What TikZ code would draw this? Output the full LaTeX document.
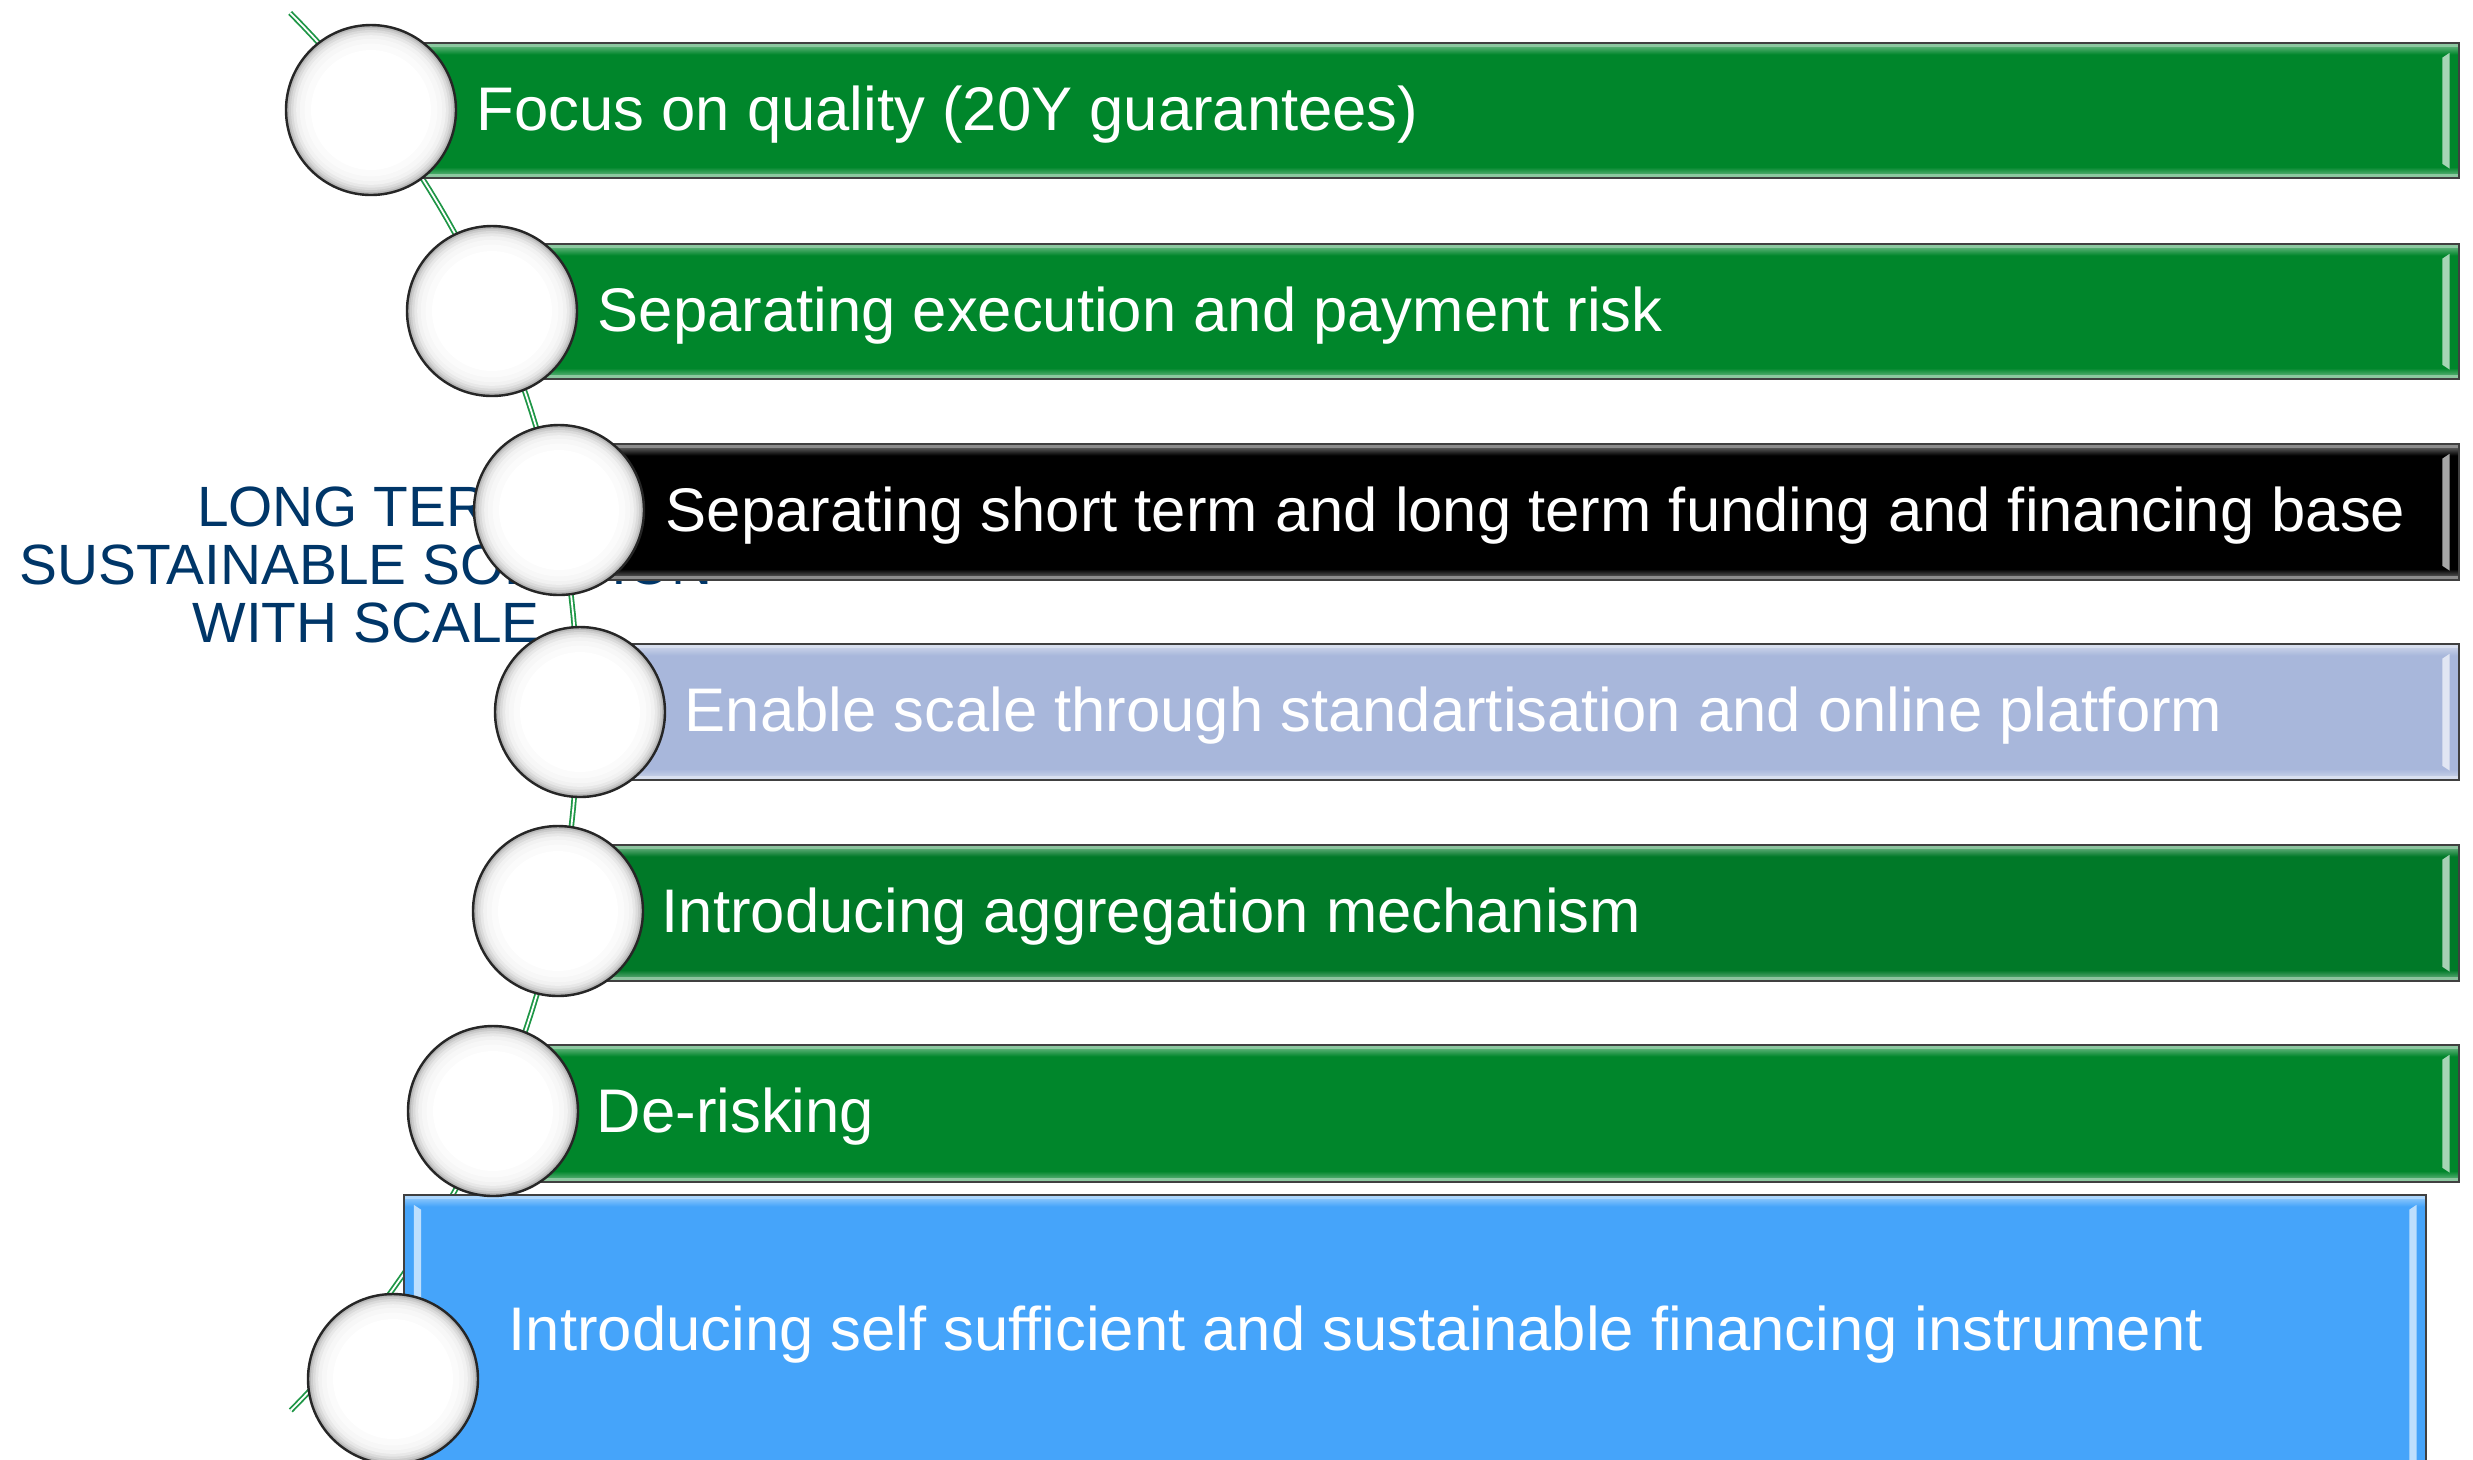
\documentclass[tikz,border=0pt]{standalone}
\usepackage{fontspec}
\setmainfont{Liberation Sans}

\definecolor{barGreen}{RGB}{0,134,43}
\definecolor{barGreenDark}{RGB}{0,121,40}
\definecolor{barLavender}{RGB}{168,183,219}
\definecolor{barBlue}{RGB}{69,164,250}
\definecolor{navyText}{RGB}{0,54,104}
\definecolor{arcGreen}{RGB}{30,150,70}

\tikzset{
  % one unit = one pixel of the 2473 x 1459 layout, y pointing down
  bar/.style={
    rectangle, anchor=north west, inner sep=0pt,
    draw=black!75, line width=0.6pt, fill=#1,
    path picture={
      % top bevel
      \fill[#1!45!white] ([yshift=-0.3pt]path picture bounding box.north west)
        rectangle ([yshift=-1.1pt]path picture bounding box.north east);
      \shade[top color=#1!70!white, bottom color=#1]
        ([yshift=-1.1pt]path picture bounding box.north west)
        rectangle ([yshift=-2.8pt]path picture bounding box.north east);
      % bottom bevel
      \shade[top color=#1, bottom color=#1!70!white]
        ([yshift=2.8pt]path picture bounding box.south west)
        rectangle ([yshift=1.1pt]path picture bounding box.south east);
      \fill[#1!45!white] ([yshift=1.1pt]path picture bounding box.south west)
        rectangle ([yshift=0.3pt]path picture bounding box.south east);
      % right edge highlight
      \fill[#1!35!white]
        ([shift={(-4.2pt,-3.6pt)}]path picture bounding box.north east) --
        ([shift={(-2.4pt,-2.4pt)}]path picture bounding box.north east) --
        ([shift={(-2.4pt,2.4pt)}]path picture bounding box.south east) --
        ([shift={(-4.2pt,3.6pt)}]path picture bounding box.south east) -- cycle;
      % left edge highlight
      \fill[#1!35!white]
        ([shift={(4.2pt,-3.6pt)}]path picture bounding box.north west) --
        ([shift={(2.4pt,-2.4pt)}]path picture bounding box.north west) --
        ([shift={(2.4pt,2.4pt)}]path picture bounding box.south west) --
        ([shift={(4.2pt,3.6pt)}]path picture bounding box.south west) -- cycle;
    }
  },
  ball/.style={
    circle, inner sep=0pt, minimum size=42.5pt,
    draw=black!85, line width=0.6pt, fill=black!40,
    path picture={
      \foreach \r/\s in {20.9/28,20.5/20,20.0/14,19.4/9,18.7/5,17.8/3,16.6/1.5,15.0/0}
        \fill[black!\s] (path picture bounding box.center) circle[radius=\r pt];
    }
  },
  bartext/.style={anchor=base west, inner sep=0pt, text=white,
    font=\fontsize{15.4pt}{18pt}\selectfont},
  lefttitle/.style={anchor=north, inner sep=0pt, align=center, text=navyText,
    font=\fontsize{14.2pt}{14.5pt}\selectfont},
  arcline/.style={draw=arcGreen, line width=0.45pt, double=white, double distance=0.45pt}
}

\begin{document}
\begin{tikzpicture}[x=0.25pt,y=-0.25pt]
  \fill[white] (0,0) rectangle (2473,1459);
  \useasboundingbox (0,0) rectangle (2473,1459);

  % title behind the list
  \node[lefttitle] (title) at (366,486) {LONG TERM\\SUSTAINABLE SOLUTION\\WITH SCALE};

  % curved spine through the bullets
  \draw[arcline] plot[domain=-44.75:44.7, samples=90] ({-415+993*cos(\x)}, {712+993*sin(\x)});

  % bars
  \node[bar=barGreen,     minimum width=2087*0.25pt, minimum height=135*0.25pt] (b1) at (371,42) {};
  \node[bar=barGreen,     minimum width=1966*0.25pt, minimum height=135*0.25pt] (b2) at (492,243) {};
  \node[bar=black,        minimum width=1899*0.25pt, minimum height=136*0.25pt] (b3) at (559,443) {};
  \node[bar=barLavender,  minimum width=1878*0.25pt, minimum height=136*0.25pt] (b4) at (580,643) {};
  \node[bar=barGreenDark, minimum width=1900*0.25pt, minimum height=136*0.25pt] (b5) at (558,844) {};
  \node[bar=barGreen,     minimum width=1965*0.25pt, minimum height=137*0.25pt] (b6) at (493,1044) {};
  \node[bar=barBlue,      minimum width=2022*0.25pt, minimum height=280*0.25pt] (b7) at (403,1194) {};

  % bullets
  \node[ball] (c1) at (371,110) {};
  \node[ball] (c2) at (492,311) {};
  \node[ball] (c3) at (559,510) {};
  \node[ball] (c4) at (580,712) {};
  \node[ball] (c5) at (558,911) {};
  \node[ball] (c6) at (493,1111) {};
  \node[ball] (c7) at (393,1379) {};

  % labels
  \node[bartext] (t1) at (476,130)  {Focus on quality (20Y guarantees)};
  \node[bartext] (t2) at (597,331)  {Separating execution and payment risk};
  \node[bartext] (t3) at (665,531)  {Separating short term and long term funding and financing base};
  \node[bartext] (t4) at (684,731)  {Enable scale through standartisation and online platform};
  \node[bartext] (t5) at (661,932)  {Introducing aggregation mechanism};
  \node[bartext] (t6) at (596,1132) {De-risking};
  \node[bartext] (t7) at (508,1350) {Introducing self sufficient and sustainable financing instrument};
\end{tikzpicture}
\end{document}
